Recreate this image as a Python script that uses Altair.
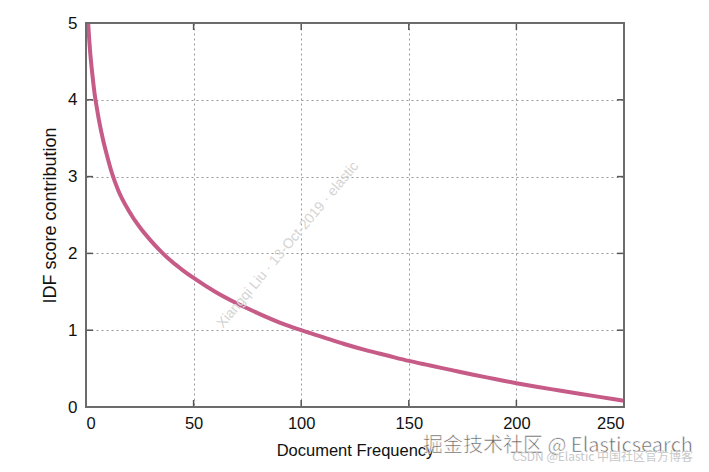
import altair as alt
import pandas as pd

# Curve values
doc_freq = [1, 1.5, 2, 3, 4, 5, 6, 8, 10, 12, 15, 20, 25, 30, 35, 40, 45, 50,
            60, 70, 80, 90, 100, 110, 120, 130, 140, 150, 160, 170, 180, 190,
            200, 210, 220, 230, 240, 250]
idf = [5.0, 4.78, 4.6, 4.32, 4.08, 3.9, 3.74, 3.47, 3.25, 3.05, 2.82, 2.55, 2.34,
       2.17, 2.02, 1.89, 1.78, 1.68, 1.50, 1.35, 1.22, 1.10, 1.0, 0.91, 0.82, 0.74,
       0.67, 0.60, 0.54, 0.48, 0.42, 0.365, 0.31, 0.26, 0.215, 0.17, 0.125, 0.08]

x_ticks = [0, 50, 100, 150, 200, 250]
y_ticks = [0, 1, 2, 3, 4, 5]

W, H = 538, 384
FONT = "Liberation Sans"

curve_df = pd.DataFrame({"df": doc_freq, "idf": idf})
xt_df = pd.DataFrame({"v": x_ticks})
yt_df = pd.DataFrame({"v": y_ticks})
one = pd.DataFrame({"a": [0]})

xscale = alt.Scale(domain=[0, 250], nice=False, zero=False)
yscale = alt.Scale(domain=[0, 5], nice=False, zero=False)

curve = alt.Chart(curve_df).mark_line(
    color="#C75B88", strokeWidth=4, interpolate="monotone", clip=True
).encode(
    x=alt.X("df:Q", scale=xscale, title="Document Frequency",
            axis=alt.Axis(values=x_ticks, format="d", grid=True, gridDash=[2, 3],
                          gridColor="#999999", gridWidth=1, ticks=False,
                          domain=False, labelFont=FONT, labelFontSize=16.5,
                          labelColor="#111", labelPadding=8, titleFont=FONT,
                          titleFontSize=16.5, titleFontWeight="normal",
                          titleColor="#111", titlePadding=11)),
    y=alt.Y("idf:Q", scale=yscale, title="IDF score contribution",
            axis=alt.Axis(values=y_ticks, format="d", grid=True, gridDash=[2, 3],
                          gridColor="#999999", gridWidth=1, ticks=False,
                          domain=False, labelFont=FONT, labelFontSize=17,
                          labelColor="#111", labelPadding=9, titleFont=FONT,
                          titleFontSize=18, titleFontWeight="normal",
                          titleColor="#111", titlePadding=8)),
)

tick_color = "#555555"
bottom_ticks = alt.Chart(xt_df).mark_rule(color=tick_color, strokeWidth=1.5).encode(
    x=alt.X("v:Q", scale=xscale), y=alt.value(H), y2=alt.value(H - 7))
top_ticks = alt.Chart(xt_df).mark_rule(color=tick_color, strokeWidth=1.5).encode(
    x=alt.X("v:Q", scale=xscale), y=alt.value(0), y2=alt.value(7))
left_ticks = alt.Chart(yt_df).mark_rule(color=tick_color, strokeWidth=1.5).encode(
    y=alt.Y("v:Q", scale=yscale), x=alt.value(0), x2=alt.value(7))
right_ticks = alt.Chart(yt_df).mark_rule(color=tick_color, strokeWidth=1.5).encode(
    y=alt.Y("v:Q", scale=yscale), x=alt.value(W), x2=alt.value(W - 7))

border = alt.Chart(one).mark_rect(filled=False, stroke="#6b6b6b", strokeWidth=2).encode(
    x=alt.value(0), x2=alt.value(W), y=alt.value(0), y2=alt.value(H))

wm_diag = alt.Chart(one).mark_text(
    text="Xiangqi Liu · 13-Oct-2019 · elastic", angle=310, font=FONT,
    fontSize=14, color="#d4d4d4", align="center", baseline="middle"
).encode(x=alt.value(202), y=alt.value(222))

wm_main = alt.Chart(one).mark_text(
    text="掘金技术社区 @ Elasticsearch", font="Noto Sans CJK SC", fontSize=20,
    fill="#4a4a4a", stroke="white", strokeWidth=0.6, opacity=0.85,
    align="right", baseline="middle"
).encode(x=alt.value(607), y=alt.value(423))

wm_sub = alt.Chart(one).mark_text(
    text="CSDN @Elastic 中国社区官方博客", font="Noto Sans CJK SC", fontSize=12,
    color="#c8c8c8", align="right", baseline="middle"
).encode(x=alt.value(607), y=alt.value(434))

chart = alt.layer(
    curve, bottom_ticks, top_ticks, left_ticks, right_ticks, border,
    wm_diag, wm_main, wm_sub
).properties(
    width=W, height=H,
    autosize=alt.AutoSizeParams(type="none"),
    padding={"left": 78, "top": 15, "right": 77, "bottom": 57},
).configure_view(stroke=None).configure(background="white")

chart.save("out.html", embed_options={"renderer": "svg", "actions": False})
